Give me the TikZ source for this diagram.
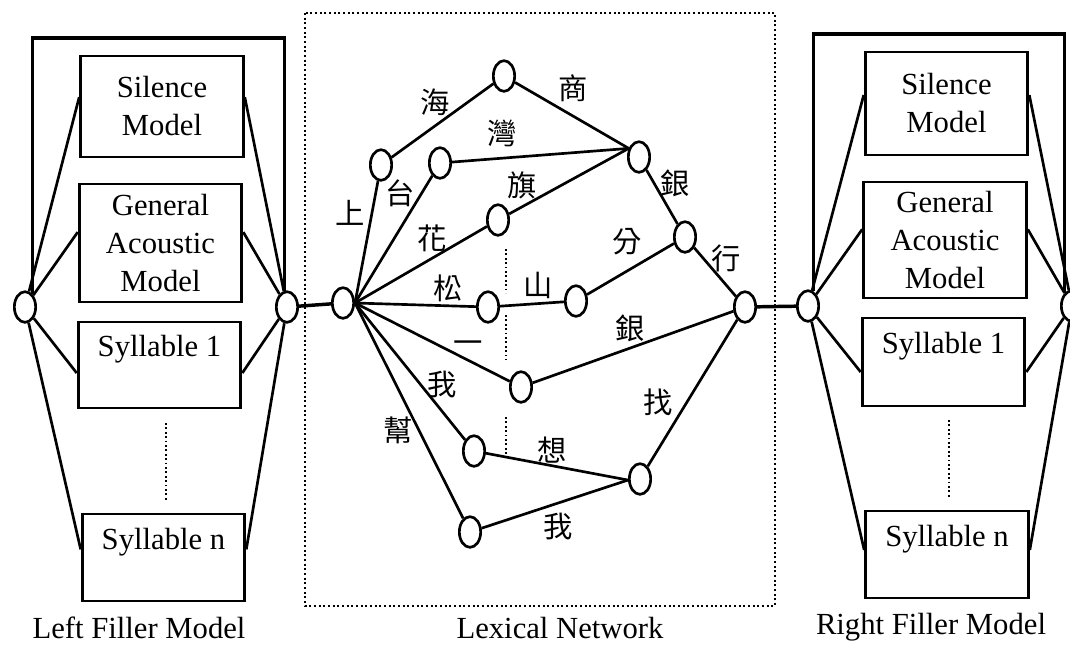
\documentclass[tikz,border=0pt]{standalone}
\usepackage{fontspec}
\setmainfont{Liberation Serif}
\newfontfamily\cjk{Noto Sans CJK TC}
\usetikzlibrary{shapes.geometric, calc}
\newcommand\modelfont{\fontsize{23}{28.5}\selectfont}
\newcommand\zifont{\cjk\fontsize{22}{22}\selectfont}
\tikzset{
	state/.style={ellipse, draw, line width=2pt, minimum width=16pt, minimum height=23pt, inner sep=0pt},
	model/.style={rectangle, draw, line width=2.2pt, align=center, inner sep=0pt, minimum width=122pt, font=\modelfont},
	edge/.style={draw, line width=2pt},
	link/.style={draw, line width=2.6pt},
	bracket/.style={draw, line width=2.4pt},
	ellip/.style={draw, line width=1.3pt, dash pattern=on 1.3pt off 2pt},
	netbox/.style={draw, line width=1.5pt, dash pattern=on 1.5pt off 2pt},
	zi/.style={font=\zifont, inner sep=0pt},
	caption/.style={font=\modelfont, inner sep=0pt}
}

\begin{document}
\begin{tikzpicture}[x=0.75pt, y=-0.75pt]
	\useasboundingbox (0,0) rectangle (1070,644);
	
	% Lexical Network frame
	\draw[netbox] (305,13) rectangle (775,606);
	
	% Left Filler Model
	\node[state] (lf-in) at (25,307) {};
	\node[state] (lf-out) at (287,307) {};
	\node[model, minimum height=75.75pt] (lsil) at (162,106.5) {Silence\\Model};
	\node[model, minimum height=88.5pt] (lgen) at (160.5,243) {General\\Acoustic\\Model};
	\node[model, minimum height=64.5pt] (lsy1) at (159.5,365) {Syllable 1\\~};
	\node[model, minimum height=65.25pt] (lsyn) at (163.5,557.5) {Syllable n\\~};
	\coordinate (ltop) at (150,38);
	\draw[bracket] (lf-in.60) |- (ltop) -| (lf-out.100);
	\foreach \b/\f in {lsil/0.41, lgen/0.41, lsy1/0.59, lsyn/0.41} {
		\draw[edge] (lf-in) -- ($(\b.north west)!\f!(\b.south west)$);
		\draw[edge] (lf-out) -- ($(\b.north east)!\f!(\b.south east)$);
	}
	\draw[ellip] (166,423) -- (166,500);
	\node[caption] (lcap) at (139,628) {Left Filler Model};
	
	% Right Filler Model
	\node[state] (rf-in) at (808,306) {};
	\node[state] (rf-out) at (1072,306) {};
	\node[model, minimum height=77.25pt] (rsil) at (946.5,103.5) {Silence\\Model};
	\node[model, minimum height=87pt] (rgen) at (945,240) {General\\Acoustic\\Model};
	\node[model, minimum height=66pt] (rsy1) at (943.5,362) {Syllable 1\\~};
	\node[model, minimum height=65.25pt] (rsyn) at (947,554.5) {Syllable n\\~};
	\coordinate (rtop) at (940,34);
	\draw[bracket] (rf-in.70) |- (rtop) -| (rf-out.120);
	\foreach \b/\f in {rsil/0.42, rgen/0.41, rsy1/0.61, rsyn/0.45} {
		\draw[edge] (rf-in) -- ($(\b.north west)!\f!(\b.south west)$);
		\draw[edge] (rf-out) -- ($(\b.north east)!\f!(\b.south east)$);
	}
	\draw[ellip] (949,420) -- (949,497);
	\node[caption] (rcap) at (931,627) {Right Filler Model};
	
	% Lexical Network
	\node[state] (n-s) at (343,303) {};
	\node[state] (n-shang) at (381,165) {};
	\node[state] (n-hai) at (504,76) {};
	\node[state] (n-tai) at (440,163) {};
	\node[state] (n-hua) at (498,220) {};
	\node[state] (n-song) at (488,307) {};
	\node[state] (n-shan) at (576,301) {};
	\node[state] (n-wan) at (639,157) {};
	\node[state] (n-yin) at (685,237) {};
	\node[state] (n-e) at (745,307) {};
	\node[state] (n-yi) at (521,387) {};
	\node[state] (n-wo) at (474,451) {};
	\node[state] (n-bang) at (470,532) {};
	\node[state] (n-xiang) at (640,479) {};
	\node[caption] (ncap) at (560,628) {Lexical Network};
	
	% Connections
	\draw[link] (lf-out) -- (n-s);
	\draw[link] (n-e) -- (rf-in);
	\foreach \t in {n-shang, n-tai, n-hua, n-song, n-yi, n-wo, n-bang}
	\draw[edge] (n-s.east) -- (\t);
	\draw[edge] (n-shang) -- (n-hai);
	\draw[edge] (n-hai) -- (n-wan.140);
	\draw[edge] (n-tai) -- (n-wan.140);
	\draw[edge] (n-hua) -- (n-wan.140);
	\draw[edge] (n-wan) -- (n-yin);
	\draw[edge] (n-yin) -- (n-e);
	\draw[edge] (n-song) -- (n-shan);
	\draw[edge] (n-shan) -- (n-yin);
	\draw[edge] (n-yi) -- (n-e.200);
	\draw[edge] (n-wo) -- (n-xiang.185);
	\draw[edge] (n-bang) -- (n-xiang.185);
	\draw[edge] (n-xiang) -- (n-e);
	\draw[ellip] (506,249) -- (506,293);
	\draw[ellip] (506,315) -- (506,360);
	\draw[ellip] (506,417) -- (506,460);
	
	% Syllable labels
	\node[zi] (z-shang) at (350,213) {上};
	\node[zi] (z-hai) at (435,102) {海};
	\node[zi] (z-shang2) at (573,88) {商};
	\node[zi] (z-wan) at (502,133) {灣};
	\node[zi] (z-tai) at (400,193) {台};
	\node[zi] (z-qi) at (522,185) {旗};
	\node[zi] (z-hua) at (432,238) {花};
	\node[zi] (z-song) at (448,288) {松};
	\node[zi] (z-shan) at (538,285) {山};
	\node[zi] (z-yin) at (675,183) {銀};
	\node[zi] (z-fen) at (627,242) {分};
	\node[zi] (z-hang) at (726,258) {行};
	\node[zi] (z-yin2) at (630,328) {銀};
	\node[zi] (z-yi) at (468,347) {一};
	\node[zi] (z-wo) at (442,385) {我};
	\node[zi] (z-bang) at (398,430) {幫};
	\node[zi] (z-xiang) at (552,450) {想};
	\node[zi] (z-zhao) at (658,402) {找};
	\node[zi] (z-wo2) at (558,527) {我};
\end{tikzpicture}
\end{document}
